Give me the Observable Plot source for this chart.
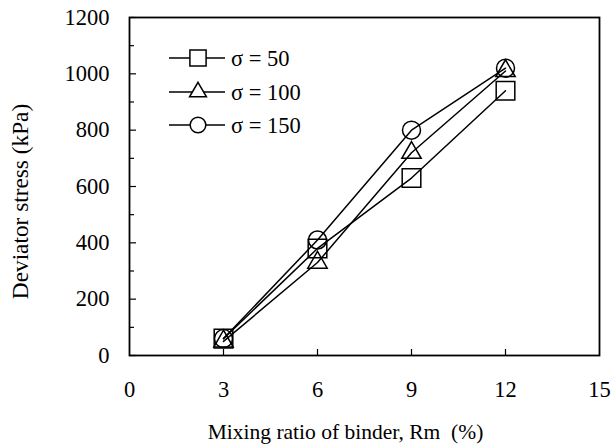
<!DOCTYPE html>
<html><head><meta charset="utf-8">
<script src="https://cdn.jsdelivr.net/npm/d3@7"></script>
<script src="https://cdn.jsdelivr.net/npm/@observablehq/plot@0.6"></script>
<style>body{margin:0;background:#fff}#chart{position:relative;width:611px;height:447px}
.legend-text{font-family:"Liberation Serif","Times New Roman",serif;font-size:22.5px}</style>
</head><body><div id="chart"></div>
<script>
const mixingRatio = [3, 6, 9, 12];
const sigma50 = [60, 380, 630, 940];
const sigma100 = [50, 330, 720, 1010];
const sigma150 = [60, 410, 800, 1020];
const seriesNames = ["σ = 50", "σ = 100", "σ = 150"];
const seriesSymbols = ["square", "triangle", "circle"];
const seriesRadius = [10.5, 7.2, 9];
const xTicks = [0, 3, 6, 9, 12, 15];
const xInnerTicks = [3, 6, 9, 12];
const yTicks = [0, 200, 400, 600, 800, 1000, 1200];
const yMinorTicks = [100, 300, 500, 700, 900, 1100];
const xTitle = "Mixing ratio of binder, Rm  (%)";
const yTitle = "Deviator stress (kPa)";

const seriesValues = [sigma50, sigma100, sigma150];
const rows = [];
seriesValues.forEach((vals, s) => vals.forEach((v, i) => rows.push({series: seriesNames[s], x: mixingRatio[i], y: v})));

const font = "'Liberation Serif', 'Times New Roman', serif";
const dotMarks = seriesNames.map((name, s) =>
  Plot.dot(rows.filter(d => d.series === name), {x: "x", y: "y", symbol: () => seriesSymbols[s], r: seriesRadius[s], stroke: "#000", strokeWidth: 1.5, fill: "none"})
);
const fmt = d => String(d);

const plot = Plot.plot({
  width: 611, height: 447,
  marginLeft: 129, marginRight: 12, marginTop: 17, marginBottom: 92,
  style: {fontFamily: font, fontSize: "22px", color: "#000", background: "#fff"},
  x: {domain: [0, 15]},
  y: {domain: [0, 1200]},
  symbol: {type: "identity"},
  marks: [
    Plot.axisY(yTicks, {tickSize: 0, tickPadding: 20, label: null, fontSize: 22.5, tickFormat: fmt}),
    Plot.axisY(yTicks, {tickSize: -7, text: null, label: null, strokeWidth: 1.2}),
    Plot.axisY(yMinorTicks, {tickSize: -5, text: null, label: null, strokeWidth: 1.2}),
    Plot.axisX(xTicks, {tickSize: 0, tickPadding: 26, label: null, fontSize: 22.5, tickFormat: fmt}),
    Plot.axisX(xInnerTicks, {tickSize: -6, text: null, label: null, strokeWidth: 1.2}),
    Plot.text([yTitle], {frameAnchor: "left", text: d => d, rotate: -90, textAnchor: "middle", lineAnchor: "middle", dx: -109, dy: 15, fontSize: 23.3}),
    Plot.text([xTitle], {frameAnchor: "bottom", text: d => d, textAnchor: "middle", lineAnchor: "middle", dx: -19, dy: 77, fontSize: 21.5}),
    Plot.line(rows, {x: "x", y: "y", z: "series", stroke: "#000", strokeWidth: 1.5}),
    ...dotMarks,
    Plot.frame({stroke: "#000", strokeWidth: 1.8})
  ]
});
document.getElementById("chart").appendChild(plot);

// legend inside the plot area
const svg = d3.select(plot);
const lg = svg.append("g").attr("text-anchor", "start");
const legendY = [58, 92, 125];
seriesNames.forEach((name, s) => {
  const g = lg.append("g").attr("transform", `translate(0,${legendY[s]})`);
  g.append("line").attr("x1", 169).attr("x2", 225).attr("y1", 0).attr("y2", 0).attr("stroke", "#000").attr("stroke-width", 1.5);
  const sym = {square: d3.symbolSquare, triangle: d3.symbolTriangle, circle: d3.symbolCircle}[seriesSymbols[s]];
  const rr = seriesRadius[s] * 0.87;
  g.append("path").attr("transform", "translate(198,0)")
    .attr("d", d3.symbol(sym, Math.PI * rr * rr)())
    .attr("fill", "#fff").attr("stroke", "#000").attr("stroke-width", 1.5);
  g.append("text").attr("class", "legend-text").attr("x", 231).attr("y", 0).attr("dy", "0.35em")
    .style("font-family", font).style("font-size", "22.5px").attr("fill", "#000").text(name);
});
</script>
</body></html>
